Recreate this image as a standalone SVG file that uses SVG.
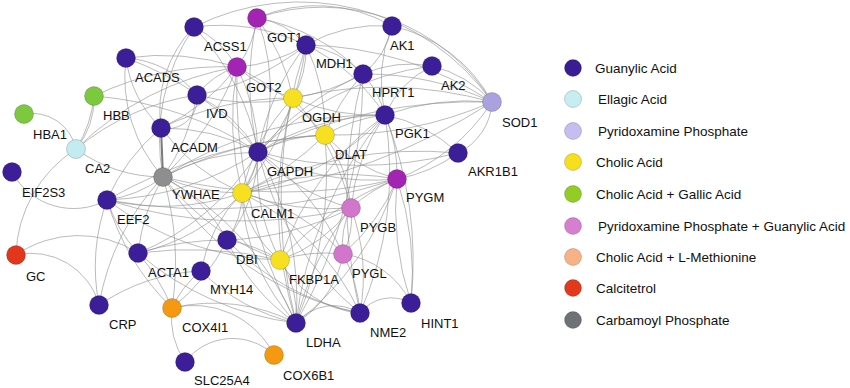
<svg xmlns="http://www.w3.org/2000/svg" width="850" height="388" viewBox="0 0 850 388">
<style>
.e{fill:none;stroke:#8c8c8c;stroke-width:0.7;stroke-opacity:0.85}
.t{fill:none;stroke:#7a7a7a;stroke-width:2}
circle{stroke:#000;stroke-opacity:0.22;stroke-width:0.8}
.lb{font-family:"Liberation Sans",Arial,sans-serif;font-size:13px;fill:#111}
.lg{font-family:"Liberation Sans",Arial,sans-serif;font-size:13.5px;fill:#111}
.gua{fill:#3c1e98}.ell{fill:#c2ecf0}.pyr{fill:#a9a2df}.cho{fill:#f6e020}.cg{fill:#7cc83e}
.mag{fill:#a323b2}.pg{fill:#d276cc}.ora{fill:#f59a10}.red{fill:#e2361d}.gry{fill:#8e8e8e}
</style>
<rect width="850" height="388" fill="#fff"/>
<g id="edges">
<path class="e" d="M257 18A200 200 0 0 1 492 102"/>
<path class="e" d="M194 27A235 235 0 0 1 492 102"/>
<path class="e" d="M257 18A150 150 0 0 1 392 26"/>
<path class="e" d="M306 45A150 150 0 0 1 392 26"/>
<path class="e" d="M392 26A150 150 0 0 1 492 102"/>
<path class="e" d="M432 66A120 120 0 0 1 492 102"/>
<path class="e" d="M392 26A80 80 0 0 1 363 74"/>
<path class="e" d="M392 26A150 150 0 0 0 385 115"/>
<path class="e" d="M432 66A100 100 0 0 0 385 115"/>
<path class="e" d="M432 66A120 120 0 0 0 363 74"/>
<path class="e" d="M432 66A300 300 0 0 0 258 152"/>
<path class="e" d="M492 102A350 350 0 0 0 306 45"/>
<path class="e" d="M492 102A300 300 0 0 0 363 74"/>
<path class="e" d="M492 102A250 250 0 0 0 385 115"/>
<path class="e" d="M492 102A400 400 0 0 0 293 98"/>
<path class="e" d="M492 102A500 500 0 0 0 258 152"/>
<path class="e" d="M492 102A400 400 0 0 1 325 135"/>
<path class="e" d="M492 102A200 200 0 0 1 397 179"/>
<path class="e" d="M492 102A60 60 0 0 1 458 153"/>
<path class="e" d="M492 102A600 600 0 0 1 242 193"/>
<path class="e" d="M363 74A100 100 0 0 0 306 45"/>
<path class="e" d="M363 74A100 100 0 0 1 385 115"/>
<path class="e" d="M363 74A300 300 0 0 0 258 152"/>
<path class="e" d="M363 74A200 200 0 0 1 293 98"/>
<path class="e" d="M363 74A200 200 0 0 0 325 135"/>
<path class="e" d="M363 74A200 200 0 0 0 257 18"/>
<path class="e" d="M306 45A80 80 0 0 0 257 18"/>
<path class="e" d="M306 45A150 150 0 0 1 237 67"/>
<path class="e" d="M306 45A100 100 0 0 1 293 98"/>
<path class="e" d="M306 45A200 200 0 0 1 385 115"/>
<path class="e" d="M306 45A250 250 0 0 0 258 152"/>
<path class="e" d="M306 45A200 200 0 0 1 325 135"/>
<path class="e" d="M306 45A200 200 0 0 0 194 27"/>
<path class="e" d="M306 45A300 300 0 0 1 242 193"/>
<path class="e" d="M306 45A250 250 0 0 1 197 95"/>
<path class="e" d="M257 18A100 100 0 0 1 237 67"/>
<path class="e" d="M257 18A300 300 0 0 0 258 152"/>
<path class="e" d="M257 18A200 200 0 0 1 293 98"/>
<path class="e" d="M257 18A200 200 0 0 1 242 193"/>
<path class="e" d="M237 67A150 150 0 0 0 293 98"/>
<path class="e" d="M237 67A200 200 0 0 1 258 152"/>
<path class="e" d="M237 67A200 200 0 0 1 161 128"/>
<path class="e" d="M237 67A80 80 0 0 0 197 95"/>
<path class="e" d="M237 67A300 300 0 0 0 242 193"/>
<path class="e" d="M237 67A300 300 0 0 1 325 135"/>
<path class="e" d="M237 67A300 300 0 0 1 163 177"/>
<path class="e" d="M237 67A250 250 0 0 0 126 58"/>
<path class="e" d="M194 27A120 120 0 0 0 161 128"/>
<path class="e" d="M194 27A100 100 0 0 1 237 67"/>
<path class="e" d="M194 27A250 250 0 0 1 258 152"/>
<path class="e" d="M194 27A200 200 0 0 0 163 177"/>
<path class="e" d="M126 58A150 150 0 0 0 163 177"/>
<path class="e" d="M126 58A100 100 0 0 1 197 95"/>
<path class="e" d="M126 58A300 300 0 0 1 258 152"/>
<path class="e" d="M126 58A120 120 0 0 0 161 128"/>
<path class="e" d="M197 95A30 30 0 0 1 161 128"/>
<path class="e" d="M197 95A150 150 0 0 1 258 152"/>
<path class="e" d="M197 95A200 200 0 0 0 293 98"/>
<path class="e" d="M197 95A200 200 0 0 1 163 177"/>
<path class="t" d="M161 128L163 177"/>
<path class="e" d="M161 128A200 200 0 0 1 258 152"/>
<path class="e" d="M161 128A300 300 0 0 1 293 98"/>
<path class="e" d="M161 128A200 200 0 0 0 242 193"/>
<path class="e" d="M161 128A200 200 0 0 0 107 200"/>
<path class="e" d="M163 177A200 200 0 0 1 258 152"/>
<path class="e" d="M163 177A200 200 0 0 0 242 193"/>
<path class="e" d="M163 177A500 500 0 0 0 397 179"/>
<path class="e" d="M163 177A120 120 0 0 1 107 200"/>
<path class="e" d="M163 177A200 200 0 0 0 138 253"/>
<path class="e" d="M163 177A150 150 0 0 1 227 240"/>
<path class="e" d="M163 177A250 250 0 0 0 280 260"/>
<path class="e" d="M163 177A400 400 0 0 1 385 115"/>
<path class="e" d="M163 177A300 300 0 0 1 296 323"/>
<path class="e" d="M163 177A400 400 0 0 1 325 135"/>
<path class="e" d="M163 177A300 300 0 0 0 360 313"/>
<path class="e" d="M258 152A250 250 0 0 1 385 115"/>
<path class="e" d="M258 152A100 100 0 0 0 293 98"/>
<path class="e" d="M258 152A150 150 0 0 1 325 135"/>
<path class="e" d="M258 152A80 80 0 0 1 242 193"/>
<path class="e" d="M258 152A250 250 0 0 0 397 179"/>
<path class="e" d="M258 152A200 200 0 0 0 351 208"/>
<path class="e" d="M258 152A250 250 0 0 1 343 254"/>
<path class="e" d="M258 152A200 200 0 0 0 280 260"/>
<path class="e" d="M258 152A150 150 0 0 1 227 240"/>
<path class="e" d="M258 152A400 400 0 0 0 458 153"/>
<path class="e" d="M258 152A300 300 0 0 1 296 323"/>
<path class="e" d="M258 152A300 300 0 0 0 360 313"/>
<path class="e" d="M258 152A300 300 0 0 1 107 200"/>
<path class="e" d="M258 152A250 250 0 0 1 138 253"/>
<path class="e" d="M242 193A300 300 0 0 1 397 179"/>
<path class="e" d="M242 193A250 250 0 0 0 351 208"/>
<path class="e" d="M242 193A200 200 0 0 1 343 254"/>
<path class="e" d="M242 193A100 100 0 0 0 280 260"/>
<path class="e" d="M242 193A250 250 0 0 0 385 115"/>
<path class="e" d="M242 193A80 80 0 0 1 227 240"/>
<path class="e" d="M242 193A150 150 0 0 0 201 271"/>
<path class="e" d="M242 193A200 200 0 0 1 138 253"/>
<path class="e" d="M242 193A200 200 0 0 0 296 323"/>
<path class="e" d="M242 193A250 250 0 0 1 360 313"/>
<path class="e" d="M242 193A200 200 0 0 1 293 98"/>
<path class="e" d="M242 193A300 300 0 0 0 325 135"/>
<path class="e" d="M242 193A400 400 0 0 1 458 153"/>
<path class="e" d="M385 115A150 150 0 0 1 397 179"/>
<path class="e" d="M385 115A150 150 0 0 0 325 135"/>
<path class="e" d="M385 115A200 200 0 0 1 293 98"/>
<path class="e" d="M385 115A200 200 0 0 0 351 208"/>
<path class="e" d="M385 115A300 300 0 0 0 280 260"/>
<path class="e" d="M385 115A150 150 0 0 1 458 153"/>
<path class="e" d="M385 115A400 400 0 0 1 411 303"/>
<path class="e" d="M385 115A400 400 0 0 0 296 323"/>
<path class="e" d="M385 115A350 350 0 0 1 360 313"/>
<path class="e" d="M397 179A150 150 0 0 0 351 208"/>
<path class="e" d="M397 179A200 200 0 0 1 343 254"/>
<path class="e" d="M397 179A150 150 0 0 1 325 135"/>
<path class="e" d="M397 179A300 300 0 0 1 411 303"/>
<path class="e" d="M397 179A300 300 0 0 0 411 303"/>
<path class="e" d="M397 179A150 150 0 0 0 458 153"/>
<path class="e" d="M397 179A300 300 0 0 1 296 323"/>
<path class="e" d="M397 179A300 300 0 0 0 280 260"/>
<path class="e" d="M351 208A80 80 0 0 0 343 254"/>
<path class="e" d="M351 208A80 80 0 0 1 343 254"/>
<path class="e" d="M351 208A150 150 0 0 1 280 260"/>
<path class="e" d="M351 208A150 150 0 0 0 325 135"/>
<path class="e" d="M351 208A200 200 0 0 1 360 313"/>
<path class="e" d="M351 208A250 250 0 0 0 293 98"/>
<path class="e" d="M343 254A90 90 0 0 1 411 303"/>
<path class="e" d="M343 254A150 150 0 0 1 360 313"/>
<path class="e" d="M343 254A100 100 0 0 1 296 323"/>
<path class="e" d="M343 254A150 150 0 0 0 280 260"/>
<path class="e" d="M280 260A150 150 0 0 0 227 240"/>
<path class="e" d="M280 260A100 100 0 0 1 296 323"/>
<path class="e" d="M280 260A100 100 0 0 0 360 313"/>
<path class="e" d="M360 313A40 40 0 0 1 411 303"/>
<path class="e" d="M296 323A50 50 0 0 1 360 313"/>
<path class="e" d="M360 313A500 500 0 0 1 363 74"/>
<path class="e" d="M296 323A400 400 0 0 1 293 98"/>
<path class="e" d="M296 323A400 400 0 0 0 325 135"/>
<path class="e" d="M296 323A500 500 0 0 1 306 45"/>
<path class="e" d="M296 323A500 500 0 0 0 363 74"/>
<path class="e" d="M296 323A500 500 0 0 1 237 67"/>
<path class="e" d="M296 323A300 300 0 0 1 351 208"/>
<path class="e" d="M227 240A200 200 0 0 0 296 323"/>
<path class="e" d="M227 240A250 250 0 0 0 360 313"/>
<path class="e" d="M227 240A300 300 0 0 0 351 208"/>
<path class="e" d="M201 271A200 200 0 0 0 296 323"/>
<path class="e" d="M107 200A450 450 0 0 0 351 208"/>
<path class="e" d="M107 200A600 600 0 0 0 397 179"/>
<path class="e" d="M107 200A300 300 0 0 0 280 260"/>
<path class="e" d="M107 200A250 250 0 0 0 242 193"/>
<path class="e" d="M107 200A500 500 0 0 1 325 135"/>
<path class="e" d="M107 200A150 150 0 0 0 138 253"/>
<path class="e" d="M138 253A400 400 0 0 1 280 260"/>
<path class="e" d="M138 253A300 300 0 0 0 296 323"/>
<path class="e" d="M138 253A300 300 0 0 1 227 240"/>
<path class="e" d="M172 308A80 80 0 0 0 185 362"/>
<path class="e" d="M185 362A60 60 0 0 1 274 355"/>
<path class="e" d="M172 308A90 90 0 0 1 274 355"/>
<path class="e" d="M172 308A180 180 0 0 1 296 323"/>
<path class="e" d="M172 308A200 200 0 0 0 138 253"/>
<path class="e" d="M172 308A250 250 0 0 1 107 200"/>
<path class="e" d="M172 308A300 300 0 0 0 163 177"/>
<path class="e" d="M172 308A200 200 0 0 0 227 240"/>
<path class="e" d="M172 308A100 100 0 0 1 201 271"/>
<path class="e" d="M24 114A45 45 0 0 1 76 149"/>
<path class="e" d="M94 96A80 80 0 0 1 76 149"/>
<path class="e" d="M94 96A120 120 0 0 1 76 149"/>
<path class="e" d="M76 149A300 300 0 0 1 237 67"/>
<path class="e" d="M76 149A250 250 0 0 1 197 95"/>
<path class="e" d="M94 96A300 300 0 0 1 237 67"/>
<path class="e" d="M94 96A350 350 0 0 1 258 152"/>
<path class="e" d="M76 149A130 130 0 0 0 16 255"/>
<path class="e" d="M12 172A70 70 0 0 0 107 200"/>
<path class="e" d="M16 255A70 70 0 0 1 99 305"/>
<path class="e" d="M16 255A110 110 0 0 1 138 253"/>
<path class="e" d="M99 305A200 200 0 0 1 107 200"/>
<path class="e" d="M99 305A250 250 0 0 1 163 177"/>
<path class="e" d="M99 305A200 200 0 0 1 201 271"/>
<path class="e" d="M76 149A150 150 0 0 0 163 177"/>
</g>
<g id="n-GOT1"><circle class="mag" cx="257" cy="18" r="9.5"/><text class="lb" x="267" y="42">GOT1</text></g>
<g id="n-ACSS1"><circle class="gua" cx="194" cy="27" r="9.5"/><text class="lb" x="204" y="51">ACSS1</text></g>
<g id="n-MDH1"><circle class="gua" cx="306" cy="45" r="9.5"/><text class="lb" x="316" y="68">MDH1</text></g>
<g id="n-AK1"><circle class="gua" cx="392" cy="26" r="9.5"/><text class="lb" x="390" y="50">AK1</text></g>
<g id="n-ACADS"><circle class="gua" cx="126" cy="58" r="9.5"/><text class="lb" x="135" y="82">ACADS</text></g>
<g id="n-GOT2"><circle class="mag" cx="237" cy="67" r="9.5"/><text class="lb" x="246" y="92">GOT2</text></g>
<g id="n-AK2"><circle class="gua" cx="432" cy="66" r="9.5"/><text class="lb" x="441" y="90">AK2</text></g>
<g id="n-HPRT1"><circle class="gua" cx="363" cy="74" r="9.5"/><text class="lb" x="372" y="97">HPRT1</text></g>
<g id="n-HBB"><circle class="cg" cx="94" cy="96" r="9.5"/><text class="lb" x="103" y="120">HBB</text></g>
<g id="n-IVD"><circle class="gua" cx="197" cy="95" r="9.5"/><text class="lb" x="206" y="118">IVD</text></g>
<g id="n-OGDH"><circle class="cho" cx="293" cy="98" r="9.5"/><text class="lb" x="302" y="122">OGDH</text></g>
<g id="n-SOD1"><circle class="pyr" cx="492" cy="102" r="9.5"/><text class="lb" x="502" y="127">SOD1</text></g>
<g id="n-HBA1"><circle class="cg" cx="24" cy="114" r="9.5"/><text class="lb" x="33" y="139">HBA1</text></g>
<g id="n-PGK1"><circle class="gua" cx="385" cy="115" r="9.5"/><text class="lb" x="395" y="138">PGK1</text></g>
<g id="n-ACADM"><circle class="gua" cx="161" cy="128" r="9.5"/><text class="lb" x="171" y="152">ACADM</text></g>
<g id="n-DLAT"><circle class="cho" cx="325" cy="135" r="9.5"/><text class="lb" x="335" y="159">DLAT</text></g>
<g id="n-CA2"><circle class="ell" cx="76" cy="149" r="9.5"/><text class="lb" x="85" y="173">CA2</text></g>
<g id="n-GAPDH"><circle class="gua" cx="258" cy="152" r="9.5"/><text class="lb" x="267" y="176">GAPDH</text></g>
<g id="n-AKR1B1"><circle class="gua" cx="458" cy="153" r="9.5"/><text class="lb" x="468" y="176">AKR1B1</text></g>
<g id="n-EIF2S3"><circle class="gua" cx="12" cy="172" r="9.5"/><text class="lb" x="22" y="197">EIF2S3</text></g>
<g id="n-YWHAE"><circle class="gry" cx="163" cy="177" r="9.5"/><text class="lb" x="172" y="199">YWHAE</text></g>
<g id="n-PYGM"><circle class="mag" cx="397" cy="179" r="9.5"/><text class="lb" x="406" y="202">PYGM</text></g>
<g id="n-CALM1"><circle class="cho" cx="242" cy="193" r="9.5"/><text class="lb" x="251" y="218">CALM1</text></g>
<g id="n-EEF2"><circle class="gua" cx="107" cy="200" r="9.5"/><text class="lb" x="117" y="224">EEF2</text></g>
<g id="n-PYGB"><circle class="pg" cx="351" cy="208" r="9.5"/><text class="lb" x="360" y="232">PYGB</text></g>
<g id="n-DBI"><circle class="gua" cx="227" cy="240" r="9.5"/><text class="lb" x="236" y="264">DBI</text></g>
<g id="n-ACTA1"><circle class="gua" cx="138" cy="253" r="9.5"/><text class="lb" x="148" y="277">ACTA1</text></g>
<g id="n-PYGL"><circle class="pg" cx="343" cy="254" r="9.5"/><text class="lb" x="352" y="278">PYGL</text></g>
<g id="n-GC"><circle class="red" cx="16" cy="255" r="9.5"/><text class="lb" x="26" y="281">GC</text></g>
<g id="n-FKBP1A"><circle class="cho" cx="280" cy="260" r="9.5"/><text class="lb" x="289" y="284">FKBP1A</text></g>
<g id="n-MYH14"><circle class="gua" cx="201" cy="271" r="9.5"/><text class="lb" x="210" y="294">MYH14</text></g>
<g id="n-HINT1"><circle class="gua" cx="411" cy="303" r="9.5"/><text class="lb" x="421" y="328">HINT1</text></g>
<g id="n-CRP"><circle class="gua" cx="99" cy="305" r="9.5"/><text class="lb" x="109" y="329">CRP</text></g>
<g id="n-COX4I1"><circle class="ora" cx="172" cy="308" r="9.5"/><text class="lb" x="182" y="332">COX4I1</text></g>
<g id="n-NME2"><circle class="gua" cx="360" cy="313" r="9.5"/><text class="lb" x="370" y="337">NME2</text></g>
<g id="n-LDHA"><circle class="gua" cx="296" cy="323" r="9.5"/><text class="lb" x="306" y="347">LDHA</text></g>
<g id="n-COX6B1"><circle class="ora" cx="274" cy="355" r="9.5"/><text class="lb" x="283" y="380">COX6B1</text></g>
<g id="n-SLC25A4"><circle class="gua" cx="185" cy="362" r="9.5"/><text class="lb" x="194" y="385">SLC25A4</text></g>
<g id="legend">
<circle cx="573" cy="68" r="8.5" fill="#3a1d94"/><text class="lg" x="595" y="73">Guanylic Acid</text>
<circle cx="573" cy="99" r="8.5" fill="#c6eef1"/><text class="lg" x="598" y="104">Ellagic Acid</text>
<circle cx="573" cy="131" r="8.5" fill="#c5bef0"/><text class="lg" x="598" y="136">Pyridoxamine Phosphate</text>
<circle cx="573" cy="162" r="8.5" fill="#f6e01e"/><text class="lg" x="596" y="167">Cholic Acid</text>
<circle cx="573" cy="194" r="8.5" fill="#92cc24"/><text class="lg" x="596" y="199">Cholic Acid + Gallic Acid</text>
<circle cx="573" cy="226" r="8.5" fill="#d77ed0"/><text class="lg" x="598" y="231">Pyridoxamine Phosphate + Guanylic Acid</text>
<circle cx="573" cy="257" r="8.5" fill="#f8b286"/><text class="lg" x="596" y="262">Cholic Acid + L-Methionine</text>
<circle cx="573" cy="288" r="8.5" fill="#e2381c"/><text class="lg" x="596" y="293">Calcitetrol</text>
<circle cx="573" cy="320" r="8.5" fill="#6e7176"/><text class="lg" x="596" y="325">Carbamoyl Phosphate</text>
</g>
</svg>
